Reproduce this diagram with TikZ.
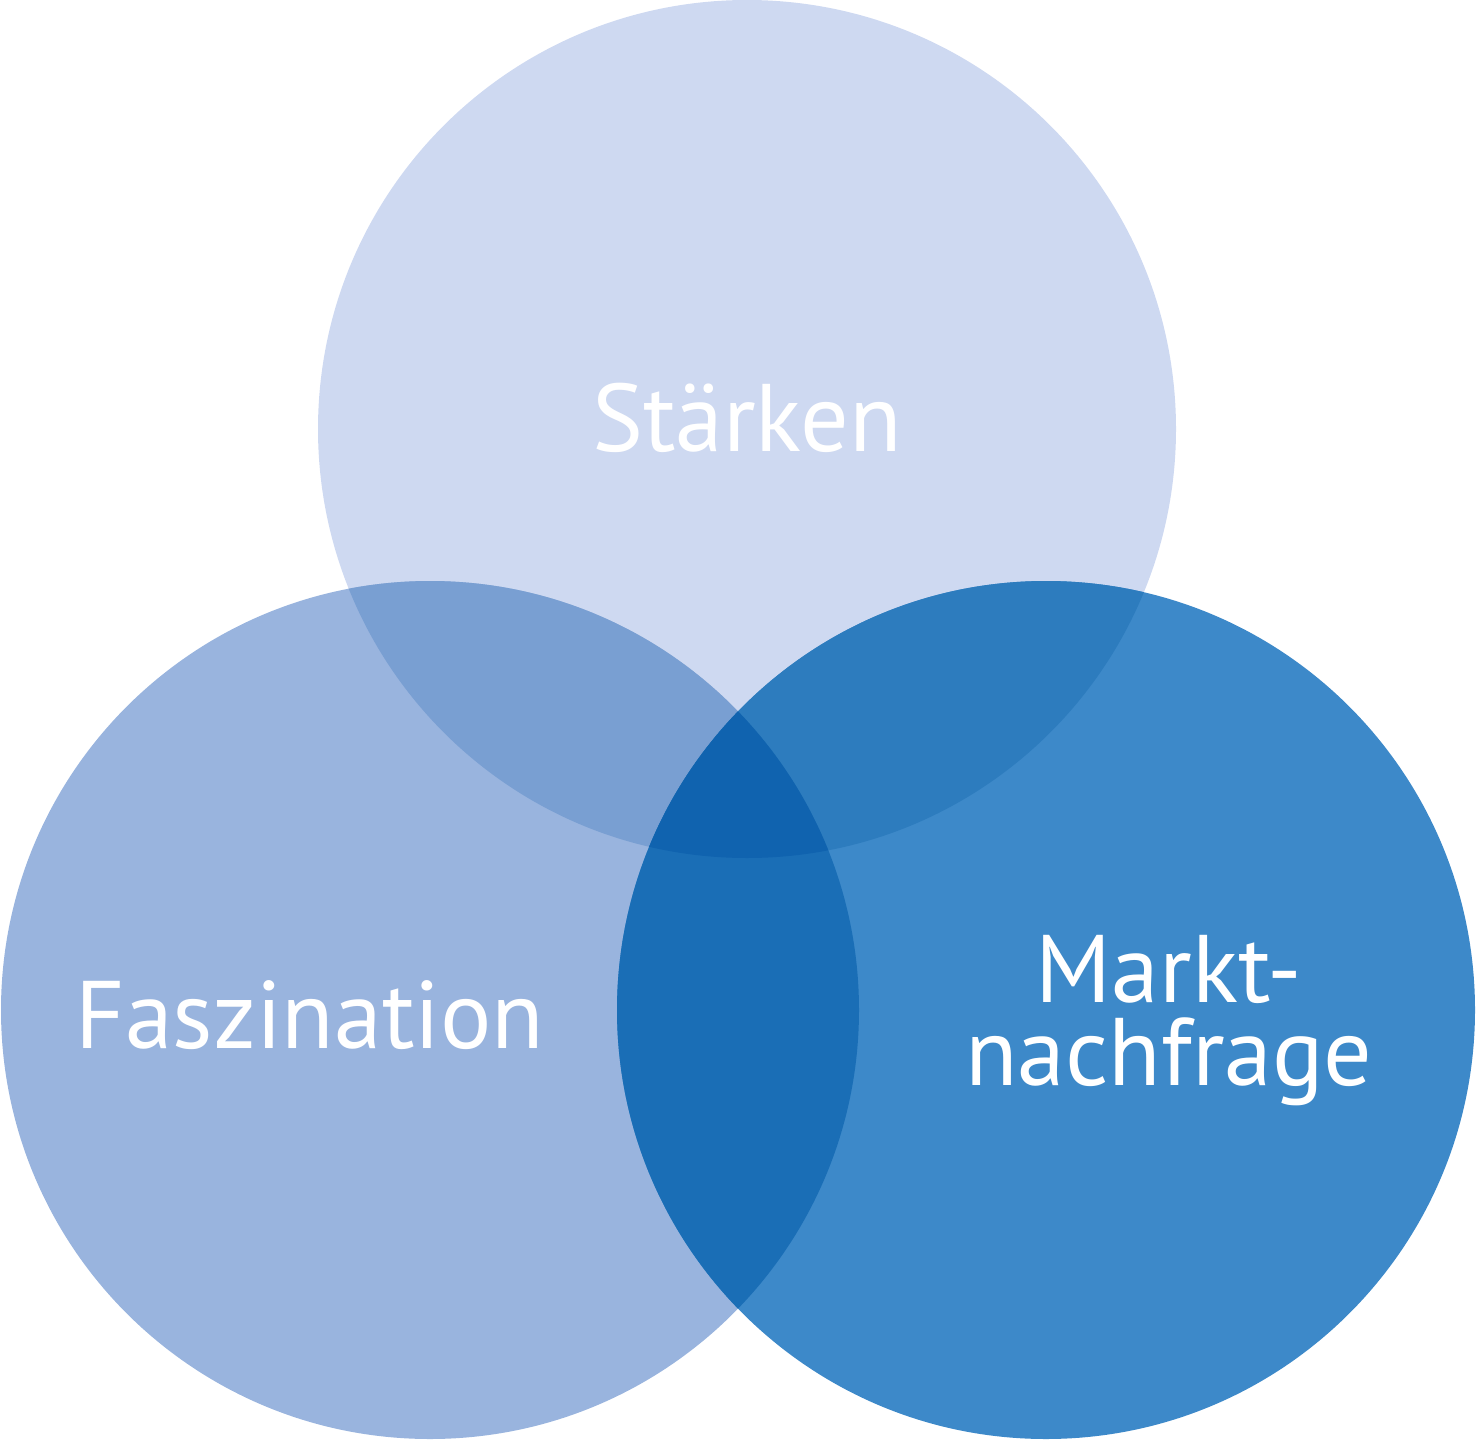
\documentclass[tikz,border=0pt]{standalone}
\usepackage{fontspec}
\setmainfont{PT Sans}
\definecolor{cTop}{HTML}{CED9F1}
\definecolor{cLeft}{HTML}{99B4DE}
\definecolor{cRight}{HTML}{3D89C9}
\definecolor{cTL}{HTML}{799FD2}
\definecolor{cTR}{HTML}{2D7CBE}
\definecolor{cLR}{HTML}{1A6EB6}
\definecolor{cAll}{HTML}{1063AF}
\tikzset{lbl/.style={text=white,font=\fontsize{96}{83}\selectfont,align=center,inner sep=0pt}}
\begin{document}
\begin{tikzpicture}[x=1pt,y=-1pt]
\useasboundingbox (0,0) rectangle (1479,1442);
\def\ctop{(747,429) circle[radius=429]}
\def\cleft{(430,1010) circle[radius=429]}
\def\cright{(1046,1010) circle[radius=429]}
\fill[cTop] \ctop;
\fill[cLeft] \cleft;
\fill[cRight] \cright;
\begin{scope}\clip \ctop; \fill[cTL] \cleft; \end{scope}
\begin{scope}\clip \ctop; \fill[cTR] \cright; \end{scope}
\begin{scope}\clip \cleft; \fill[cLR] \cright; \end{scope}
\begin{scope}\clip \ctop; \clip \cleft; \fill[cAll] \cright; \end{scope}
\node[lbl,anchor=base] (s) at (747,451) {Stärken};
\node[lbl,anchor=base] (f) at (310,1048) {Faszination};
\node[lbl,anchor=base] (m) at (1169,1085) {Markt-\\nachfrage};
\end{tikzpicture}
\end{document}
